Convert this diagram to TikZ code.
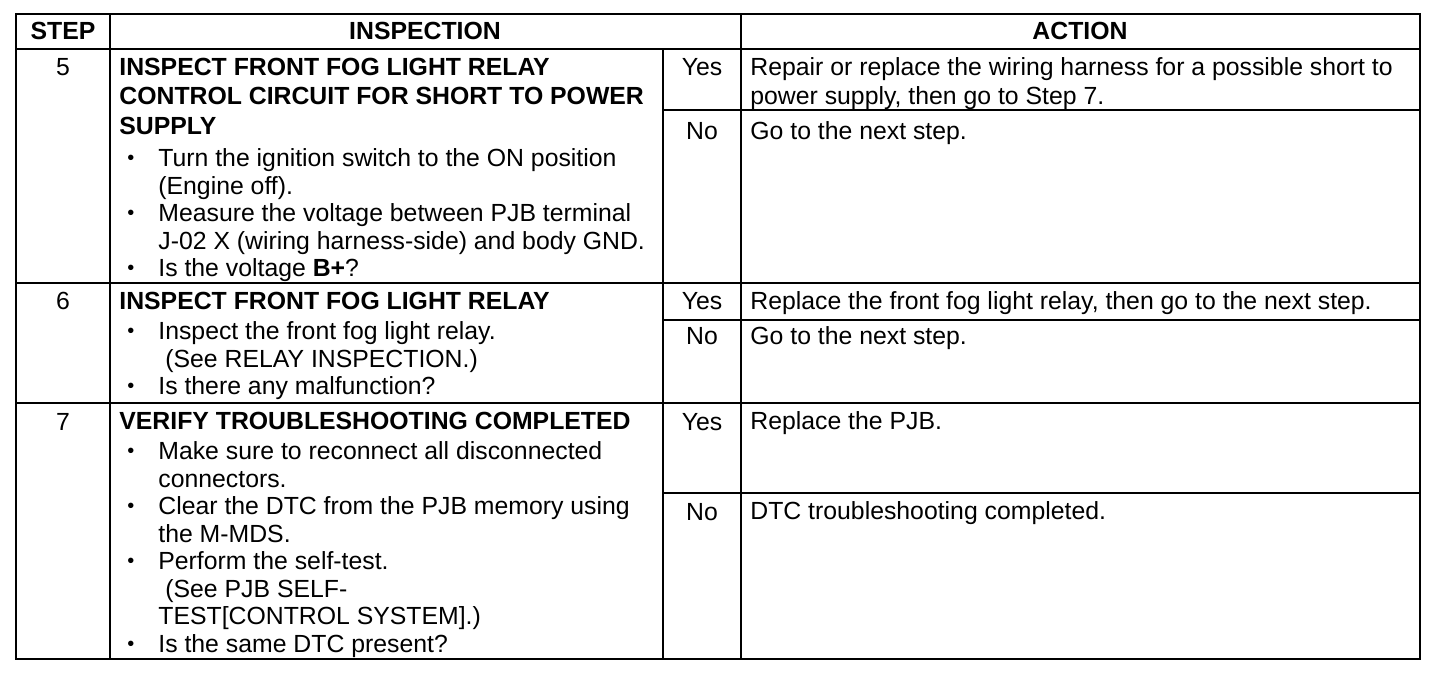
\documentclass[tikz,border=0pt]{standalone}
\usepackage{fontspec}
\setmainfont{Liberation Sans}
\newcommand{\bul}{\makebox[19.5pt][l]{\hspace{4pt}\raisebox{1.2pt}{\fontsize{10pt}{10pt}\selectfont\textbullet}}}
\newcommand{\bulind}{\hspace*{19.5pt}}
\newcommand{\topline}{\rule{0pt}{10pt}}
\tikzset{
	cell/.style = {anchor = north west, inner sep = 0pt, align = left, font = \fontsize{12.4pt}{13.75pt}\selectfont},
	num/.style = {anchor = base, inner sep = 0pt, font = \fontsize{12.4pt}{13.75pt}\selectfont},
	head/.style = {num, font = \fontsize{12.4pt}{13.75pt}\selectfont\bfseries},
	rule/.style = {line width = 1.1pt}
}
\begin{document}
\begin{tikzpicture}[x = 0.5pt, y = -0.5pt]
	\useasboundingbox (0,0) rectangle (1456,678);
	\draw [line width = 1.3pt](16,14) rectangle (1420,659);
	\foreach \y in {49,283,403}{
			\draw [rule](16,\y)--(1420,\y);
		}
	\foreach \x in {110,741}{
			\draw [rule](\x,14)--(\x,659);
		}
	\draw [rule](663,49)--(663,659);
	\foreach \y in {110,320,493}{
			\draw [rule](663,\y)--(1420,\y);
		}

	\node (hstep)[head] at(63, 40)  {STEP};
	\node (hinsp)[head] at(425, 40)  {INSPECTION};
	\node (hact)[head] at(1080, 40)  {ACTION};

	\node (s5)[num] at(63, 76)  {5};
	\node (s6)[num] at(63, 310)  {6};
	\node (s7)[num] at(63, 430)  {7};

	\node (i5)[cell] at(119, 55)  {\topline\textbf{INSPECT FRONT FOG LIGHT RELAY}\\[1pt]
		\textbf{CONTROL CIRCUIT FOR SHORT TO POWER}\\[1pt]
		\textbf{SUPPLY}\\[2.5pt]
		\bul Turn the ignition switch to the ON position\\
		\bulind (Engine off).\\
		\bul Measure the voltage between PJB terminal\\
		\bulind J-02 X (wiring harness-side) and body GND.\\
		\bul Is the voltage \textbf{B+}?};
	\node (i6)[cell] at(119, 289)  {\topline\textbf{INSPECT FRONT FOG LIGHT RELAY}\\[1.5pt]
		\bul Inspect the front fog light relay.\\
		\bulind\hspace*{3.5pt}(See RELAY INSPECTION.)\\
		\bul Is there any malfunction?};
	\node (i7)[cell] at(119, 409)  {\topline\textbf{VERIFY TROUBLESHOOTING COMPLETED}\\[1.5pt]
		\bul Make sure to reconnect all disconnected\\
		\bulind connectors.\\
		\bul Clear the DTC from the PJB memory using\\
		\bulind the M-MDS.\\
		\bul Perform the self-test.\\
		\bulind\hspace*{3.5pt}(See PJB SELF-\\
		\bulind TEST[CONTROL SYSTEM].)\\
		\bul Is the same DTC present?};

	\node (y5)[num] at(702, 76)  {Yes};
	\node (n5)[num] at(702, 140)  {No};
	\node (y6)[num] at(702, 310)  {Yes};
	\node (n6)[num] at(702, 345)  {No};
	\node (y7)[num] at(702, 430)  {Yes};
	\node (n7)[num] at(702, 520)  {No};

	\node (a5y)[cell] at(750, 55)  {\topline Repair or replace the wiring harness for a possible short to\\[1pt]
		power supply, then go to Step 7.};
	\node (a5n)[cell] at(750, 119)  {\topline Go to the next step.};
	\node (a6y)[cell] at(750, 289)  {\topline Replace the front fog light relay, then go to the next step.};
	\node (a6n)[cell] at(750, 324)  {\topline Go to the next step.};
	\node (a7y)[cell] at(750, 409)  {\topline Replace the PJB.};
	\node (a7n)[cell] at(750, 499)  {\topline DTC troubleshooting completed.};
\end{tikzpicture}
\end{document}
